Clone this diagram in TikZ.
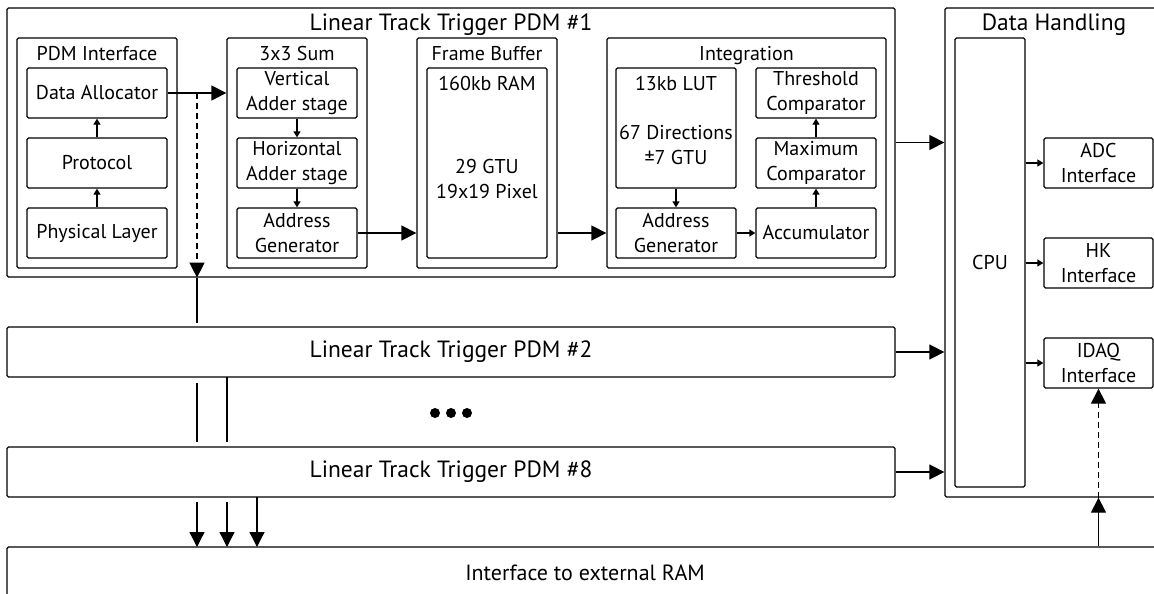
\documentclass[tikz,border=0pt]{standalone}
\usepackage{fontspec}
\setmainfont{PT Sans}
\usetikzlibrary{arrows.meta}
\newcommand\pdmfont{\fontsize{23.5}{28}\selectfont}
\tikzset{
  box/.style={draw, rounded corners=1.5pt, inner sep=0pt, align=center},
  sub/.style={box, minimum width=120pt, minimum height=50pt},
  titled/.style={box, label={[anchor=north, inner sep=0pt, yshift=-8pt]north:#1}},
  toptitled/.style={box, label={[anchor=north, inner sep=0pt, yshift=-6pt, font=\pdmfont]north:#1}},
  big/.style={-{Triangle[length=15pt,width=15pt]}},
  small/.style={-{Triangle[length=6pt,width=7pt]}},
  dashline/.style={dash pattern=on 6pt off 4pt}
}
\begin{document}
\begin{tikzpicture}[x=1pt,y=-1pt,line width=1.3pt,font=\fontsize{20}{25}\selectfont]
\clip (0,0) rectangle (1154,594);
% PDM #1 with its stages
\node[toptitled={Linear Track Trigger PDM \#1}, minimum width=888pt, minimum height=269pt] (pdmone) at (451,142.5) {};
\node[titled={PDM Interface}, minimum width=160pt, minimum height=230pt] (pdmif) at (97,153) {};
\node[sub, minimum width=140pt] (dalloc) at (97,93) {Data Allocator};
\node[sub, minimum width=140pt] (proto) at (97,163) {Protocol};
\node[sub, minimum width=140pt] (phys) at (97,233) {Physical Layer};
\draw[small] (phys) -- (proto);
\draw[small] (proto) -- (dalloc);

\node[titled={3x3 Sum}, minimum width=140pt, minimum height=230pt] (sum) at (297,153) {};
\node[sub] (vadd) at (297,93) {Vertical\\Adder stage};
\node[sub] (hadd) at (297,163) {Horizontal\\Adder stage};
\node[sub] (agenone) at (297,233) {Address\\Generator};
\draw[small] (vadd) -- (hadd);
\draw[small] (hadd) -- (agenone);

\node[titled={Frame Buffer}, minimum width=140pt, minimum height=230pt] (fbuf) at (487,153) {};
\node[titled={160kb RAM}, minimum width=120pt, minimum height=190pt] (ram) at (487,163) {};
\node[align=center] (ramtxt) at (487,179) {29 GTU\\19x19 Pixel};

\node[titled={Integration}, minimum width=279pt, minimum height=230pt] (integ) at (746.5,153) {};
\node[titled={13kb LUT}, minimum width=120pt, minimum height=120pt] (lut) at (676,128) {};
\node[align=center] (luttxt) at (676,145) {67 Directions\\±7 GTU};
\node[sub] (agentwo) at (676,233) {Address\\Generator};
\node[sub] (thr) at (816,93) {Threshold\\Comparator};
\node[sub] (maxc) at (816,163) {Maximum\\Comparator};
\node[sub] (accu) at (816,233) {Accumulator};
\draw[small] (lut) -- (agentwo);
\draw[small] (agentwo) -- (accu);
\draw[small] (accu) -- (maxc);
\draw[small] (maxc) -- (thr);

\draw[big] (dalloc.east) -- (dalloc.east -| sum.west);
\draw[big] (agenone.east) -- (agenone.east -| fbuf.west);
\draw[big] (agenone.east -| fbuf.east) -- (agenone.east -| integ.west);
\coordinate (tap) at (197,93);
\draw[big, dashline] (tap) -- (tap |- pdmone.south);

% other PDMs and RAM interface
\node[box, font=\pdmfont, minimum width=888pt, minimum height=50pt] (pdmtwo) at (451,352) {Linear Track Trigger PDM \#2};
\node[box, font=\pdmfont, minimum width=888pt, minimum height=50pt] (pdmeight) at (451,472) {Linear Track Trigger PDM \#8};
\node[box, font=\fontsize{22}{26}\selectfont, minimum width=1156pt, minimum height=52pt] (extram) at (585,573) {Interface to external RAM};
\foreach \dx in {-16,0,16} \fill (451+\dx,413) circle (5pt);

\draw (tap |- pdmone.south) -- ++(0,45);
\draw (197,383) -- (197,442);
\draw (227,377) -- (227,442);
\draw[big] (197,502) -- (197,547);
\draw[big] (227,502) -- (227,547);
\draw[big] (257,497) -- (257,547);

% data handling
\node[toptitled={Data Handling}, minimum width=218pt, minimum height=489pt] (dh) at (1054,252.5) {};
\node[box, minimum width=70pt, minimum height=449pt] (cpu) at (990,262.5) {CPU};
\node[box, minimum width=109pt, minimum height=50pt] (adc) at (1098.5,163) {ADC\\Interface};
\node[box, minimum width=109pt, minimum height=50pt] (hk) at (1098.5,263) {HK\\Interface};
\node[box, minimum width=109pt, minimum height=50pt] (idaq) at (1098.5,363) {IDAQ\\Interface};
\draw[small] (adc.west -| cpu.east) -- (adc);
\draw[small] (hk.west -| cpu.east) -- (hk);
\draw[small] (idaq.west -| cpu.east) -- (idaq);

\draw[big] (pdmone.east) -- (pdmone.east -| dh.west);
\draw[big] (pdmtwo.east) -- (pdmtwo.east -| dh.west);
\draw[big] (pdmeight.east) -- (pdmeight.east -| dh.west);
\draw[big] (idaq.south |- extram.north) -- (idaq.south |- dh.south);
\draw[big, dashline] (idaq.south |- dh.south) -- (idaq.south);
\end{tikzpicture}
\end{document}
